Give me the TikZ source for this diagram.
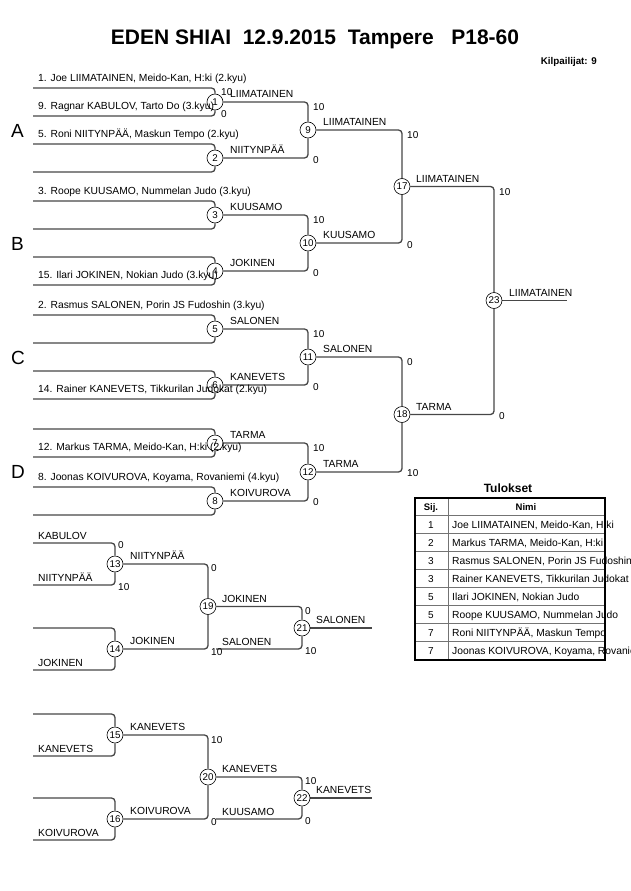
\documentclass[tikz,border=0pt]{standalone}
\usepackage{fontspec}
\setmainfont{Liberation Sans}
\usetikzlibrary{backgrounds}
\begin{document}
\begin{tikzpicture}[x=1pt,y=-1pt,
  conn/.style={draw=black!72, line width=1.3pt, rounded corners=3.5pt},
  mc/.style={circle, draw=black, line width=0.6pt, inner sep=0pt, minimum size=16pt, font=\fontsize{9.8}{10}\selectfont},
  txt/.style={anchor=base west, inner sep=0pt, font=\fontsize{10.3}{12}\selectfont},
  sc/.style={anchor=base west, inner sep=0pt, font=\fontsize{10}{12}\selectfont},
  grp/.style={anchor=base west, inner sep=0pt, font=\fontsize{19}{22}\selectfont},
  tline/.style={draw=black!55, line width=0.8pt},
  tnum/.style={anchor=base, inner sep=0pt, font=\fontsize{10}{12}\selectfont},
]
\useasboundingbox (0,0) rectangle (630,891);

% title
\node[anchor=base, inner sep=0pt, font=\fontsize{21}{24}\bfseries] (title) at (315,45) {EDEN SHIAI\ \ 12.9.2015\ \ Tampere\ \ \ P18-60};
\node[anchor=base east, inner sep=0pt, font=\fontsize{9.8}{12}\bfseries] (kilp) at (597,64) {Kilpailijat: 9};

% match circles
\foreach \n/\x/\y in {1/215/102,2/215/158,3/215/215,4/215/271,5/215/329,6/215/385,7/215/443,8/215/501,
  9/308/130,10/308/243,11/308/357,12/308/472,17/402/186.5,18/402/414.5,23/494/300.5,
  13/115/564,14/115/649,19/208/606.5,21/302/628,15/115/735,16/115/819,20/208/777,22/302/798}
  \node[mc] (m\n) at (\x,\y) {\n};

% entrant line start points
\foreach \n/\y in {1/102,2/158,3/215,4/271,5/329,6/385,7/443,8/501}{
  \coordinate (e\n t) at (33,\y-14);
  \coordinate (e\n b) at (33,\y+14);
}
\foreach \n/\y in {13/564,14/649,15/735,16/819}{
  \coordinate (e\n t) at (33,\y-21);
  \coordinate (e\n b) at (33,\y+21);
}
\coordinate (s21) at (216,649);
\coordinate (s22) at (216,819);
\coordinate (w23) at (567,300.5);
\coordinate (w21) at (372,628);
\coordinate (w22) at (372,798);

\begin{scope}[on background layer]
\foreach \n in {1,...,8,13,14,15,16}{
  \draw[conn] (e\n t) -| (m\n);
  \draw[conn] (e\n b) -| (m\n);
}
\draw[conn] (m1) -| (m9);  \draw[conn] (m2) -| (m9);
\draw[conn] (m3) -| (m10); \draw[conn] (m4) -| (m10);
\draw[conn] (m5) -| (m11); \draw[conn] (m6) -| (m11);
\draw[conn] (m7) -| (m12); \draw[conn] (m8) -| (m12);
\draw[conn] (m9) -| (m17); \draw[conn] (m10) -| (m17);
\draw[conn] (m11) -| (m18); \draw[conn] (m12) -| (m18);
\draw[conn] (m17) -| (m23); \draw[conn] (m18) -| (m23);
\draw[conn] (m23) -- (w23);
\draw[conn] (m13) -| (m19); \draw[conn] (m14) -| (m19);
\draw[conn] (m19) -| (m21); \draw[conn] (s21) -| (m21);
\draw[conn] (m21) -- (w21);
\draw[conn] (m15) -| (m20); \draw[conn] (m16) -| (m20);
\draw[conn] (m20) -| (m22); \draw[conn] (s22) -| (m22);
\draw[conn] (m22) -- (w22);
\end{scope}

% group letters
\node[grp] (gA) at (11,137) {A};
\node[grp] (gB) at (11,250) {B};
\node[grp] (gC) at (11,364) {C};
\node[grp] (gD) at (11,478) {D};

% entrant texts
\node[txt] at (38,81.5) {1. Joe LIIMATAINEN, Meido-Kan, H:ki (2.kyu)};
\node[txt] at (38,109.5) {9. Ragnar KABULOV, Tarto Do (3.kyu)};
\node[txt] at (38,137.5) {5. Roni NIITYNPÄÄ, Maskun Tempo (2.kyu)};
\node[txt] at (38,194.5) {3. Roope KUUSAMO, Nummelan Judo (3.kyu)};
\node[txt] at (38,278.5) {15. Ilari JOKINEN, Nokian Judo (3.kyu)};
\node[txt] at (38,308.5) {2. Rasmus SALONEN, Porin JS Fudoshin (3.kyu)};
\node[txt] at (38,392.5) {14. Rainer KANEVETS, Tikkurilan Judokat (2.kyu)};
\node[txt] at (38,450.5) {12. Markus TARMA, Meido-Kan, H:ki (2.kyu)};
\node[txt] at (38,480.5) {8. Joonas KOIVUROVA, Koyama, Rovaniemi (4.kyu)};

% winner labels round 1
\node[txt] at (230,97.5) {LIIMATAINEN};
\node[txt] at (230,153.5) {NIITYNPÄÄ};
\node[txt] at (230,210.5) {KUUSAMO};
\node[txt] at (230,266.5) {JOKINEN};
\node[txt] at (230,324.5) {SALONEN};
\node[txt] at (230,380.5) {KANEVETS};
\node[txt] at (230,438.5) {TARMA};
\node[txt] at (230,496.5) {KOIVUROVA};
% round 2
\node[txt] at (323,125.5) {LIIMATAINEN};
\node[txt] at (323,238.5) {KUUSAMO};
\node[txt] at (323,352.5) {SALONEN};
\node[txt] at (323,467.5) {TARMA};
% round 3
\node[txt] at (416,182) {LIIMATAINEN};
\node[txt] at (416,410) {TARMA};
% final
\node[txt] at (509,296) {LIIMATAINEN};

% scores
\node[sc] at (221,95) {10};
\node[sc] at (221,117.5) {0};
\node[sc] at (313,110) {10};  \node[sc] at (313,163) {0};
\node[sc] at (313,223) {10};  \node[sc] at (313,276) {0};
\node[sc] at (313,337) {10};  \node[sc] at (313,390) {0};
\node[sc] at (313,451) {10};  \node[sc] at (313,505) {0};
\node[sc] at (407,138) {10};  \node[sc] at (407,248) {0};
\node[sc] at (407,365) {0};   \node[sc] at (407,476) {10};
\node[sc] at (499,195) {10};  \node[sc] at (499,419) {0};

% repechage texts
\node[txt] at (38,539) {KABULOV};
\node[txt] at (38,581) {NIITYNPÄÄ};
\node[txt] at (38,666) {JOKINEN};
\node[txt] at (38,752) {KANEVETS};
\node[txt] at (38,836) {KOIVUROVA};
\node[txt] at (130,559.5) {NIITYNPÄÄ};
\node[txt] at (130,644.5) {JOKINEN};
\node[txt] at (222,602) {JOKINEN};
\node[txt] at (222,645) {SALONEN};
\node[txt] at (316,623.5) {SALONEN};
\node[txt] at (130,730.5) {KANEVETS};
\node[txt] at (130,814.5) {KOIVUROVA};
\node[txt] at (222,772.5) {KANEVETS};
\node[txt] at (222,815) {KUUSAMO};
\node[txt] at (316,793.5) {KANEVETS};
\node[sc] at (118,548) {0};   \node[sc] at (118,590) {10};
\node[sc] at (211,571) {0};   \node[sc] at (211,655) {10};
\node[sc] at (305,614) {0};   \node[sc] at (305,654) {10};
\node[sc] at (211,743) {10};  \node[sc] at (211,825) {0};
\node[sc] at (305,784) {10};  \node[sc] at (305,824) {0};

% results table
\node[anchor=base, inner sep=0pt, font=\fontsize{12}{14}\bfseries] (tul) at (508,492) {Tulokset};
\foreach \i/\p/\nm in {1/1/{Joe LIIMATAINEN, Meido-Kan, H:ki},
  2/2/{Markus TARMA, Meido-Kan, H:ki},
  3/3/{Rasmus SALONEN, Porin JS Fudoshin},
  4/3/{Rainer KANEVETS, Tikkurilan Judokat},
  5/5/{Ilari JOKINEN, Nokian Judo},
  6/5/{Roope KUUSAMO, Nummelan Judo},
  7/7/{Roni NIITYNPÄÄ, Maskun Tempo},
  8/7/{Joonas KOIVUROVA, Koyama, Rovaniemi}}{
  \node[tnum] at (431,{515+18.1*\i-5}) {\p};
  \node[txt] at (452,{515+18.1*\i-5}) {\nm};
}
\node[anchor=base, inner sep=0pt, font=\fontsize{9.5}{11}\bfseries] (sij) at (431,510) {Sij.};
\node[anchor=base, inner sep=0pt, font=\fontsize{9.5}{11}\bfseries] (nimi) at (526,510) {Nimi};
\foreach \i in {1,...,7}
  \draw[tline] (415,{515+18.1*\i}) -- (605,{515+18.1*\i});
\draw[tline] (415,515) -- (605,515);
\draw[tline] (448,515) -- (448,660);
\draw[tline] (448,498) -- (448,515) ;
\draw[draw=black, line width=1.6pt] (415,498) rectangle (605,660);
\end{tikzpicture}
\end{document}
